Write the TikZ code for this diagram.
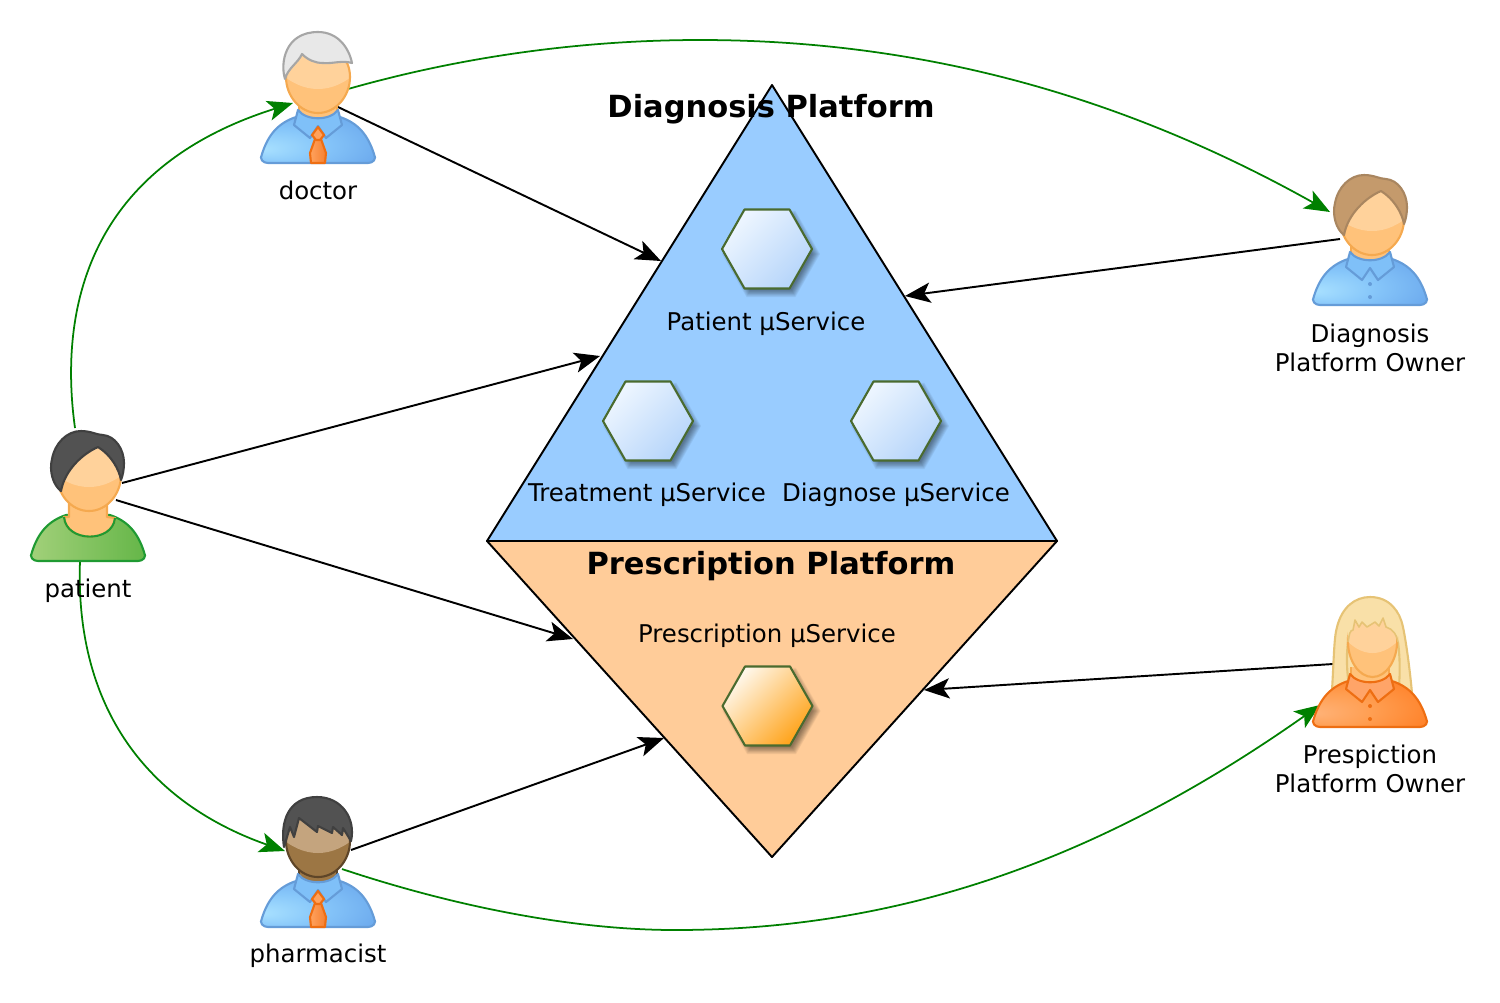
\documentclass[tikz,border=0pt]{standalone}
\usepackage{fontspec}
\setmainfont{DejaVu Sans}
\usetikzlibrary{arrows.meta}
\definecolor{gline}{HTML}{008000}
\definecolor{triblue}{HTML}{99CCFF}
\definecolor{triorange}{HTML}{FFCC99}
\definecolor{hexedge}{HTML}{4A6B2F}
\definecolor{skin}{HTML}{FFC27A}
\definecolor{skinhi}{HTML}{FFD29B}
\definecolor{skinline}{HTML}{F5A94F}
\definecolor{darkskin}{HTML}{9C7644}
\definecolor{darkskinhi}{HTML}{C4A47E}
\definecolor{darkskinline}{HTML}{5E4528}
\definecolor{shirtline}{HTML}{659CD8}
\definecolor{collarfill}{HTML}{7FC0F8}
\definecolor{orline}{HTML}{EE6E12}
\definecolor{orcollar}{HTML}{FFA468}
\definecolor{grline}{HTML}{1F9A32}
\definecolor{brownhair}{HTML}{C49A6C}
\definecolor{brownline}{HTML}{A98660}
\definecolor{blondhair}{HTML}{F9E0A8}
\definecolor{blondline}{HTML}{E6C375}
\definecolor{tielight}{HTML}{FFA25E}
\definecolor{tiedark}{HTML}{F58030}
\pgfdeclareradialshading{blueshirt}{\pgfpoint{-24bp}{-10bp}}{rgb(0bp)=(.66,.88,1);rgb(18bp)=(.53,.78,.98);rgb(42bp)=(.40,.64,.92);rgb(60bp)=(.38,.62,.90)}
\pgfdeclareradialshading{orangeshirt}{\pgfpoint{-24bp}{-10bp}}{rgb(0bp)=(1,.70,.47);rgb(18bp)=(1,.62,.32);rgb(42bp)=(1,.48,.12);rgb(60bp)=(1,.45,.10)}
\pgfdeclarehorizontalshading{greenshirt}{100bp}{rgb(0bp)=(.76,.87,.58);rgb(100bp)=(.27,.66,.18)}
\def\headpath{(0,-118) .. controls (18,-118) and (32,-105) .. (32,-86) .. controls (32,-67) and (18,-50) .. (0,-50) .. controls (-18,-50) and (-32,-67) .. (-32,-86) .. controls (-32,-105) and (-18,-118) .. (0,-118) -- cycle}
\def\bodypath{(-50,0) .. controls (-55,0) and (-59,-4) .. (-56,-9) .. controls (-50,-28) and (-40,-40) .. (-22,-46) -- (22,-46) .. controls (40,-40) and (50,-28) .. (56,-9) .. controls (59,-4) and (55,0) .. (50,0) -- cycle}
\def\shorthair{(-28,-70) .. controls (-36,-76) and (-40,-90) .. (-37,-102) .. controls (-34,-118) and (-22,-130) .. (-8,-130) .. controls (2,-130) and (8,-126) .. (14,-126) .. controls (26,-125) and (35,-112) .. (35,-98) .. controls (35,-92) and (34,-86) .. (32,-81) .. controls (30,-92) and (22,-106) .. (9,-114) .. controls (-5,-108) and (-24,-92) .. (-28,-70) -- cycle}
\newcommand{\iconhead}[3]{%
  \begin{scope}\clip \headpath;
    \fill[#1] (-40,-125) rectangle (40,-45);
    \fill[#2] (-40,-92) .. controls (-15,-68) and (15,-68) .. (40,-92) -- (40,-125) -- (-40,-125) -- cycle;
  \end{scope}
  \draw[#3,iconline] \headpath;}
\newcommand{\iconneck}[2]{\fill[#1] (-19,-60) rectangle (19,-38); \draw[#2,iconline] (-19,-60) -- (-19,-38) (19,-60) -- (19,-38);}
\newcommand{\iconcollar}[2]{\path[fill=#1,draw=#2,iconline] (-20,-53) -- (-24,-38) -- (-8,-25) -- (0,-37) -- (8,-25) -- (24,-38) -- (20,-53) .. controls (12,-42) and (-12,-42) .. (-20,-53) -- cycle;}
\newcommand{\icontie}{%
  \path[left color=tielight,right color=tiedark,draw=orline,iconline] (-3,-24) -- (-8,-10) -- (-7,0) -- (7,0) -- (8,-10) -- (3,-24) -- cycle;
  \path[fill=tielight,draw=orline,iconline] (0,-36) -- (6,-28) -- (2,-23) -- (-2,-23) -- (-6,-28) -- cycle;}
\tikzset{
  iconline/.style={line width=1.2pt,line join=round},
  platform/.style={draw=black,line width=1.1pt,line join=round},
  svc/.style={draw=hexedge,line width=1.2pt,line join=round},
  caption/.style={font=\fontsize{13.9pt}{16.4pt}\selectfont,align=center,inner sep=0pt},
  title/.style={font=\fontsize{17.35pt}{20pt}\selectfont\bfseries,align=center,inner sep=0pt},
  flow/.style={-{Stealth[length=14.5pt,width=11.5pt,inset=3.5pt]},black,line width=1.1pt},
  patientflow/.style={-{Stealth[length=14.5pt,width=11.5pt,inset=3.5pt]},gline,line width=1pt},
  doctorpic/.pic={
    \path[shading=blueshirt,draw=shirtline,iconline] \bodypath;
    \iconneck{skin}{skinline}
    \iconcollar{collarfill}{shirtline}
    \icontie
    \iconhead{skin}{skinhi}{skinline}
    \path[fill=black!9,draw=black!35,iconline] (-33,-84) .. controls (-38,-100) and (-33,-131) .. (0,-131) .. controls (20,-131) and (31,-115) .. (34,-100) .. controls (24,-103) and (14,-99) .. (5,-100) .. controls (-3,-100) and (-10,-103) .. (-16,-109) .. controls (-20,-100) and (-30,-95) .. (-33,-84) -- cycle;
  },
  pharmacistpic/.pic={
    \path[shading=blueshirt,draw=shirtline,iconline] \bodypath;
    \iconneck{darkskin}{darkskinline}
    \iconcollar{collarfill}{shirtline}
    \icontie
    \iconhead{darkskin}{darkskinhi}{darkskinline}
    \path[fill=black!68,draw=black!75,iconline] (-34,-80) .. controls (-38,-105) and (-30,-130) .. (-1,-130) .. controls (24,-130) and (38,-108) .. (33,-86) -- (25,-99) -- (24,-92) -- (15,-100) -- (14,-94) -- (0,-101) -- (-1,-95) -- (-19,-109) -- (-24,-90) -- (-28,-100) -- cycle;
  },
  patientpic/.pic={
    \path[shading=greenshirt,draw=grline,iconline] \bodypath;
    \path[fill=skin,draw=skinline,iconline] (-19,-60) -- (-19,-44) -- (-24,-44) .. controls (-22,-18) and (25,-18) .. (27,-43) -- (19,-44) -- (19,-60) -- cycle;
    \draw[grline,iconline] (-24,-44) .. controls (-22,-18) and (25,-18) .. (27,-43);
    \begin{scope}[xshift=0.02cm]\iconhead{skin}{skinhi}{skinline}
    \path[fill=black!68,draw=black!75,iconline] \shorthair;\end{scope}
  },
  dpopic/.pic={
    \path[shading=blueshirt,draw=shirtline,iconline] \bodypath;
    \iconneck{skin}{skinline}
    \iconcollar{collarfill}{shirtline}
    \fill[shirtline] (0,-21) circle (2) (0,-8) circle (2);
    \begin{scope}[xshift=0.04cm]\iconhead{skin}{skinhi}{skinline}
    \path[fill=brownhair,draw=brownline,iconline] \shorthair;\end{scope}
  },
  ppopic/.pic={
    \path[fill=blondhair,draw=blondline,iconline] (-38,-37) .. controls (-36,-70) and (-36,-90) .. (-33,-100) .. controls (-28,-120) and (-15,-130) .. (0,-130) .. controls (20,-130) and (30,-115) .. (33,-100) .. controls (37,-80) and (40,-55) .. (42,-34) -- cycle;
    \draw[blondline,iconline] (-22,-85) .. controls (-24,-70) and (-23,-55) .. (-21,-40) (28,-85) .. controls (30,-70) and (30,-55) .. (29,-40);
    \path[shading=orangeshirt,draw=orline,iconline] \bodypath;
    \iconneck{skin}{skinline}
    \iconcollar{orcollar}{orline}
    \fill[orline] (0,-21) circle (2) (0,-8) circle (2);
    \begin{scope}[xshift=0.05cm,xscale=.77]\iconhead{skin}{skinhi}{skinline}\end{scope}
    \fill[blondhair] (-22,-85) .. controls (-21,-92) and (-20,-97) .. (-17,-97) -- (-15,-107) -- (-11,-100) -- (-8,-105) -- (-3,-100) -- (5,-105) -- (9,-101) -- (13,-109) -- (16,-100) .. controls (23,-98) and (27,-92) .. (28,-85) -- (28,-112) -- (0,-122) -- (-24,-112) -- cycle;
    \draw[blondline,line width=.9pt,line join=round] (-22,-85) .. controls (-21,-92) and (-20,-97) .. (-17,-97) -- (-15,-107) -- (-11,-100) -- (-8,-105) -- (-3,-100) -- (5,-105) -- (9,-101) -- (13,-109) -- (16,-100) .. controls (23,-98) and (27,-92) .. (28,-85);
  },
}
\begin{document}
\begin{tikzpicture}[x=0.02cm,y=-0.02cm]
\useasboundingbox (0,0) rectangle (1500,1002);
% platforms
\coordinate (apex) at (772,85);
\coordinate (wleft) at (487,541);
\coordinate (wright) at (1057,541);
\coordinate (foot) at (772,857);
\path[platform,fill=triblue] (apex) -- (wleft) -- (wright) -- cycle;
\path[platform,fill=triorange] (wleft) -- (wright) -- (foot) -- cycle;
\node[title] (dptitle) at (771,109) {Diagnosis Platform};
\node[title] (pptitle) at (771,566) {Prescription Platform};
% services
\foreach \cx/\cy/\topc/\botc in {767/249/EEF6FF/B6D5FA,648/421/EEF6FF/B6D5FA,896/421/EEF6FF/B6D5FA,767.5/706/FFF8EC/FFA31A}{
  \begin{scope}[shift={(\cx,\cy)}]
    \definecolor{hextop}{HTML}{\topc}\definecolor{hexbot}{HTML}{\botc}
    \foreach \s in {1.09,1.07,1.05,1.03,1.01,.99,.97,.95,.93,.91}
      \fill[black,opacity=.05,shift={(4,5)},scale=\s] (-45,0) -- (-22.5,-39.5) -- (22.5,-39.5) -- (45,0) -- (22.5,39.5) -- (-22.5,39.5) -- cycle;
    \path[svc,top color=hextop,bottom color=hexbot,shading angle=45] (-45,0) -- (-22.5,-39.5) -- (22.5,-39.5) -- (45,0) -- (22.5,39.5) -- (-22.5,39.5) -- cycle;
  \end{scope}}
\node[caption] (svcpatient) at (766,324) {Patient µService};
\node[caption] (svctreat) at (647,495) {Treatment µService};
\node[caption] (svcdiag) at (896,495) {Diagnose µService};
\node[caption] (svcpresc) at (767,636) {Prescription µService};
% connector ends
\coordinate (docout) at (338,107);
\coordinate (docgo) at (348,89);
\coordinate (docin) at (293,103);
\coordinate (patup) at (75,428);
\coordinate (patdown) at (80,561);
\coordinate (patdp) at (122,483);
\coordinate (patpp) at (116,500);
\coordinate (pharmin) at (285,851);
\coordinate (pharmout) at (351,850);
\coordinate (pharmgo) at (342,869);
\coordinate (dpoout) at (1340,239);
\coordinate (dpoin) at (1330,212);
\coordinate (ppoout) at (1333,664);
\coordinate (ppoin) at (1320,705);
\coordinate (dpa) at (661,261);
\coordinate (dpb) at (905,296);
\coordinate (dpc) at (600,356);
\coordinate (ppa) at (573,639);
\coordinate (ppb) at (664,738);
\coordinate (ppc) at (924,690);
\coordinate (tophump) at (700,40);
\coordinate (bothump) at (675,930);
% green flows
\draw[patientflow] (patup) .. controls (60,320) and (80,170) .. (docin);
\draw[patientflow] (patdown) .. controls (75,700) and (140,800) .. (pharmin);
\draw[patientflow] (docgo) .. controls (450,60) and (570,40) .. (tophump) .. controls (930,40) and (1130,100) .. (dpoin);
\draw[patientflow] (pharmgo) .. controls (450,905) and (570,930) .. (bothump) .. controls (900,930) and (1100,860) .. (ppoin);
% black flows
\draw[flow] (docout) -- (dpa);
\draw[flow] (dpoout) -- (dpb);
\draw[flow] (patdp) -- (dpc);
\draw[flow] (patpp) -- (ppa);
\draw[flow] (pharmout) -- (ppb);
\draw[flow] (ppoout) -- (ppc);
% people
\pic at (318,163) {doctorpic};
\pic at (318,927) {pharmacistpic};
\pic at (88,561) {patientpic};
\pic at (1370,305) {dpopic};
\pic at (1370,727) {ppopic};
\node[caption] (doctor) at (318,190) {doctor};
\node[caption] (patient) at (88,591) {patient};
\node[caption] (pharmacist) at (318,956) {pharmacist};
\node[caption] (dpo) at (1370,347.5) {Diagnosis\\Platform Owner};
\node[caption] (ppo) at (1370,768.5) {Prespiction\\Platform Owner};
\end{tikzpicture}
\end{document}
